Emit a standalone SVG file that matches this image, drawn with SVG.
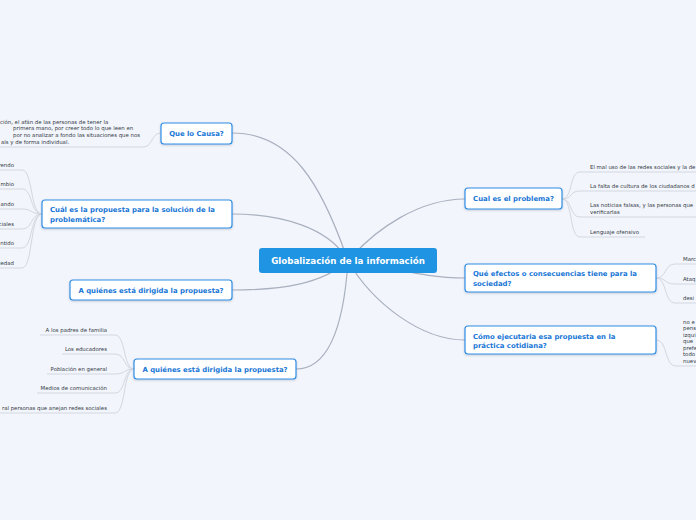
<svg xmlns="http://www.w3.org/2000/svg" width="696" height="520" viewBox="0 0 696 520">
<defs>
<filter id="sh" x="-10%" y="-20%" width="120%" height="150%"><feDropShadow dx="0" dy="1" stdDeviation="0.8" flood-color="#6a7a90" flood-opacity="0.35"/></filter>
<style>
.bg{fill:#f2f5fc}
.main{fill:none;stroke:#a9b0be;stroke-width:1.2}
.leafc{fill:none;stroke:#d3d7df;stroke-width:1}
.topic{fill:#ffffff;stroke:#2f8fe6;stroke-width:1.2}
.tt{font-family:"DejaVu Sans",Verdana,sans-serif;font-weight:bold;font-size:6.9px;fill:#1776d6}
.lt{font-family:"DejaVu Sans",Verdana,sans-serif;font-size:5.4px;fill:#333a44}
.ct{font-family:"DejaVu Sans",Verdana,sans-serif;font-weight:bold;font-size:8.7px;fill:#ffffff}
</style>
</defs>
<rect class="bg" x="0" y="0" width="696" height="520"/>
<g id="connectors">
<path class="main" d="M348 261 C322 185 292 133 232 133"/>
<path class="main" d="M348 261 C330 228 282 214 232 214"/>
<path class="main" d="M348 261 C322 284 282 290 232 290"/>
<path class="main" d="M348 261 C344 322 330 369 296 369"/>
<path class="main" d="M348 261 C376 228 420 199 465 199"/>
<path class="main" d="M348 261 C400 270 430 278 465 278"/>
<path class="main" d="M348 261 C372 302 420 340 465 340"/>
<path class="leafc" d="M0 147 H143 C153 147 151 133 161 133"/>
<path class="leafc" d="M0 170 H22 C33 170 30 214 42 214"/>
<path class="leafc" d="M0 189 H22 C33 189 30 214 42 214"/>
<path class="leafc" d="M0 209 H22 C33 209 30 214 42 214"/>
<path class="leafc" d="M0 229 H22 C33 229 30 214 42 214"/>
<path class="leafc" d="M0 248 H22 C33 248 30 214 42 214"/>
<path class="leafc" d="M0 268 H22 C33 268 30 214 42 214"/>
<path class="leafc" d="M40 335 H115 C126 335 123 369 134 369"/>
<path class="leafc" d="M62 354 H115 C126 354 123 369 134 369"/>
<path class="leafc" d="M47 374 H115 C126 374 123 369 134 369"/>
<path class="leafc" d="M37 393 H115 C126 393 123 369 134 369"/>
<path class="leafc" d="M0 413 H115 C126 413 123 369 134 369"/>
<path class="leafc" d="M562 199 C573 199 569 172 580 172 H696"/>
<path class="leafc" d="M562 199 C573 199 569 191 580 191 H696"/>
<path class="leafc" d="M562 199 C573 199 569 217 580 217 H696"/>
<path class="leafc" d="M562 199 C573 199 569 237 580 237 H645"/>
<path class="leafc" d="M656 278 C667 278 664 264 675 264 H696"/>
<path class="leafc" d="M656 278 C667 278 664 284 675 284 H696"/>
<path class="leafc" d="M656 278 C667 278 664 303 675 303 H696"/>
<path class="leafc" d="M656 340 C668 340 664 366 676 366 H696"/>
</g>
<g id="central">
<rect x="259" y="248" width="178" height="25" rx="3" fill="#1f94e2"/>
<text class="ct" x="348" y="264" text-anchor="middle">Globalización de la información</text>
</g>
<g id="que-lo-causa">
<rect class="topic" x="161" y="123" width="71" height="21" rx="3" filter="url(#sh)"/>
<text class="tt" x="196.5" y="135.5" text-anchor="middle">Que lo Causa?</text>
</g>
<g id="que-lo-causa-leaf">
<text class="lt" x="0" y="123.5">ción, el afán de las personas de tener la</text>
<text class="lt" x="13" y="130.3"> primera mano, por creer todo lo que leen en</text>
<text class="lt" x="13" y="137"> por no analizar a fondo las situaciones que nos</text>
<text class="lt" x="1" y="143.8">aís y de forma individual.</text>
</g>
<g id="cual-propuesta">
<rect class="topic" x="42" y="200" width="190" height="28" rx="3" filter="url(#sh)"/>
<text class="tt" x="50" y="212">Cuál es la propuesta para la solución de la</text>
<text class="tt" x="50" y="221.5">problemática?</text>
</g>
<g id="cual-propuesta-leaves">
<text class="lt" x="14" y="167" text-anchor="end">rendo</text>
<text class="lt" x="14" y="186" text-anchor="end">mbio</text>
<text class="lt" x="14" y="206" text-anchor="end">ando</text>
<text class="lt" x="14" y="226" text-anchor="end">ciales</text>
<text class="lt" x="14" y="245" text-anchor="end">ntido</text>
<text class="lt" x="14" y="265" text-anchor="end">iedad</text>
</g>
<g id="a-quienes-1">
<rect class="topic" x="70" y="280" width="162" height="20" rx="3" filter="url(#sh)"/>
<text class="tt" x="151" y="292.5" text-anchor="middle">A quiénes está dirigida la propuesta?</text>
</g>
<g id="a-quienes-2">
<rect class="topic" x="134" y="359" width="162" height="20" rx="3" filter="url(#sh)"/>
<text class="tt" x="215" y="371.5" text-anchor="middle">A quiénes está dirigida la propuesta?</text>
</g>
<g id="a-quienes-2-leaves">
<text class="lt" x="107" y="332" text-anchor="end">A los padres de familia</text>
<text class="lt" x="107" y="351" text-anchor="end">Los educadores</text>
<text class="lt" x="107" y="371" text-anchor="end">Población en general</text>
<text class="lt" x="107" y="390" text-anchor="end">Medios de comunicación</text>
<text class="lt" x="107" y="410" text-anchor="end">ral personas que anejan redes sociales</text>
</g>
<g id="cual-problema">
<rect class="topic" x="465" y="188" width="97" height="21" rx="3" filter="url(#sh)"/>
<text class="tt" x="513.5" y="200.8" text-anchor="middle">Cual es el problema?</text>
</g>
<g id="cual-problema-leaves">
<text class="lt" x="590" y="169">El mal uso de las redes sociales y la de</text>
<text class="lt" x="590" y="188">La falta de cultura de los ciudadanos d</text>
<text class="lt" x="590" y="207">Las noticias falsas, y las personas que</text>
<text class="lt" x="590" y="213.5">verificarlas</text>
<text class="lt" x="590" y="234">Lenguaje ofensivo</text>
</g>
<g id="que-efectos">
<rect class="topic" x="465" y="264" width="191" height="28" rx="3" filter="url(#sh)"/>
<text class="tt" x="473" y="276">Qué efectos o consecuencias tiene para la</text>
<text class="tt" x="473" y="285.5">sociedad?</text>
</g>
<g id="que-efectos-leaves">
<text class="lt" x="683" y="261">Marc</text>
<text class="lt" x="683" y="281">Ataq</text>
<text class="lt" x="683" y="300">desi</text>
</g>
<g id="como-ejecutaria">
<rect class="topic" x="465" y="326" width="191" height="28" rx="3" filter="url(#sh)"/>
<text class="tt" x="473" y="338.5">Cómo ejecutaria esa propuesta en la</text>
<text class="tt" x="473" y="348">práctica cotidiana?</text>
</g>
<g id="como-ejecutaria-leaf">
<text class="lt" x="683" y="324">no e</text>
<text class="lt" x="683" y="330">pens</text>
<text class="lt" x="683" y="336.5">izqui</text>
<text class="lt" x="683" y="343">que</text>
<text class="lt" x="683" y="349.5">prefe</text>
<text class="lt" x="683" y="356">todo</text>
<text class="lt" x="683" y="362.5">nuev</text>
</g>
</svg>
